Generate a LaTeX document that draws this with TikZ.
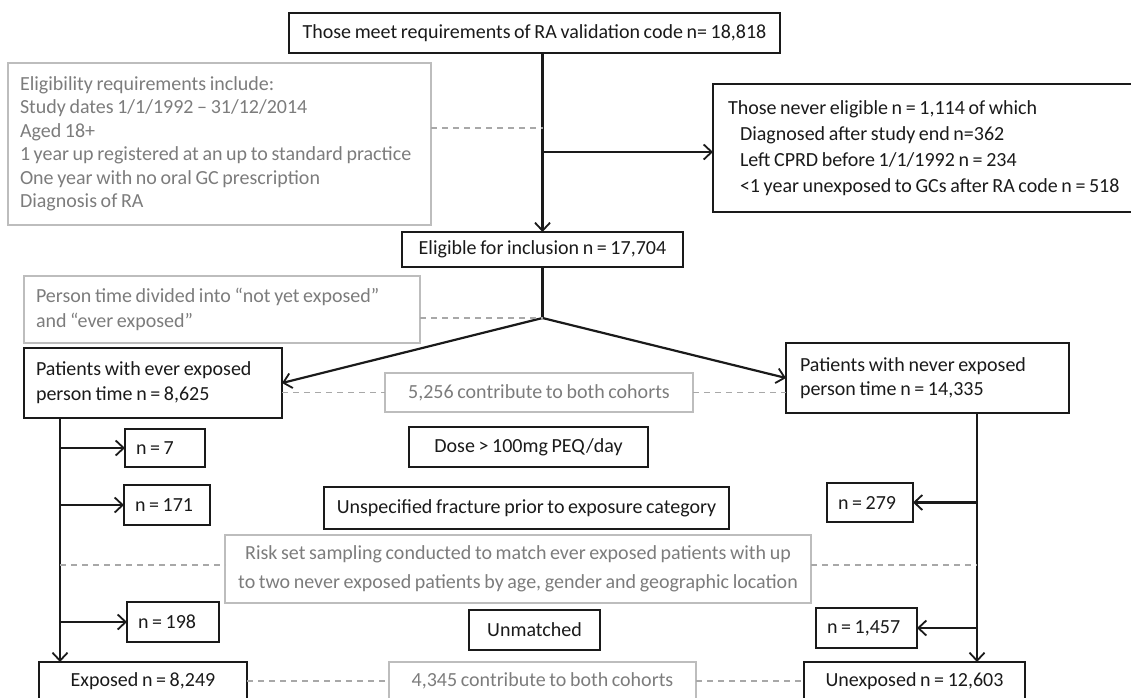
\documentclass[tikz,border=0pt]{standalone}
\usepackage{fontspec}
\setmainfont{Carlito}[WordSpace=0.8]
\usetikzlibrary{arrows.meta}
\definecolor{ink}{HTML}{1A1A1A}
\definecolor{gtext}{HTML}{7C7C7C}
\definecolor{gline}{HTML}{BDBDBD}
\definecolor{gdash}{HTML}{A8A8A8}
\begin{document}
\begin{tikzpicture}[x=1pt,y=-1pt,
 base/.style={inner sep=0pt, outer sep=0pt, font=\fontsize{20}{25}\selectfont},
 blk/.style={base, draw=ink, line width=1.4pt, text=ink},
 gry/.style={base, draw=gline, line width=1.2pt, text=gtext},
 nb/.style={blk, align=flush left, inner xsep=11pt},
 sz/.style 2 args={minimum width=#1pt, minimum height=#2pt},
 ln/.style={draw=ink, line width=2.2pt},
 arr/.style={ln, -{Straight Barb[length=8pt,width=15pt,line width=1.8pt]}},
 dsh/.style={draw=gdash, line width=1.1pt, dash pattern=on 6pt off 5pt},
]
\useasboundingbox (0,0) rectangle (1131,697);
\clip (0,0) rectangle (1131,697);

\node[blk, sz={491}{40}] (top) at (534.5,33) {Those meet requirements of RA validation code n= 18,818};

\node[gry, minimum height=162pt, text width=399pt, inner xsep=12pt, align=flush left, font=\fontsize{20}{23.5}\selectfont] (req) at (219.5,144)
 {Eligibility requirements include:\\ Study dates 1/1/1992 – 31/12/2014\\ Aged 18+\\ 1 year up registered at an up to standard practice\\ One year with no oral GC prescription\\ Diagnosis of RA};

\node[blk, minimum height=128pt, text width=405pt, inner xsep=15pt, align=flush left, font=\fontsize{20}{26}\selectfont] (nev) at (930.5,148)
 {Those never eligible n = 1,114 of which\\ \hspace*{12pt}Diagnosed after study end n=362\\ \hspace*{12pt}Left CPRD before 1/1/1992 n = 234\\ \hspace*{12pt}<1 year unexposed to GCs after RA code n = 518};

\node[blk, sz={281}{35}] (elg) at (542.5,249.5) {Eligible for inclusion n = 17,704};

\node[gry, minimum height=67pt, text width=372pt, inner xsep=12pt, align=flush left] (pt) at (222,309.5)
 {Person time divided into “not yet exposed”\\ and “ever exposed”};

\node[blk, minimum height=70pt, text width=234pt, inner xsep=12pt, align=flush left] (ever) at (153,383)
 {Patients with ever exposed\\ person time n = 8,625};

\node[gry, sz={308}{39}] (c1) at (539,392.5) {5,256 contribute to both cohorts};

\node[blk, minimum height=70pt, text width=255pt, inner xsep=14pt, align=flush left, font=\fontsize{20}{24}\selectfont] (never) at (927.5,378)
 {Patients with never exposed\\ person time n = 14,335};

\node[nb, text width=58pt, minimum height=38pt] (n7) at (165,448) {n = 7};
\node[nb, text width=64pt, minimum height=40pt] (n171) at (167,505) {n = 171};
\node[nb, text width=70pt, minimum height=40pt] (n198) at (173,622) {n = 198};
\node[nb, text width=64pt, minimum height=39pt] (n279) at (870,502.5) {n = 279};
\node[nb, text width=79pt, minimum height=40pt] (n1457) at (866.5,628) {n = 1,457};

\node[blk, sz={239}{40}] (dose) at (528.5,447) {Dose > 100mg PEQ/day};
\node[blk, sz={405}{42}] (unsp) at (526.5,508) {Unspecified fracture prior to exposure category};
\node[gry, minimum height=68pt, text width=586pt, align=flush center, font=\fontsize{20}{29}\selectfont] (risk) at (518,569)
 {Risk set sampling conducted to match ever exposed patients with up\\ to two never exposed patients by age, gender and geographic location};
\node[blk, sz={131}{40}] (unm) at (534.5,630) {Unmatched};
\node[blk, sz={208}{38}] (expo) at (143,681) {Exposed n = 8,249};
\node[gry, sz={307}{38}] (c2) at (542.5,681) {4,345 contribute to both cohorts};
\node[blk, sz={221}{38}] (unexp) at (914.5,681) {Unexposed n = 12,603};

\coordinate (j1) at (542.5,152);
\coordinate (d1) at (542.5,128);
\coordinate (br) at (542.5,318);
\coordinate (lx) at (60,0);
\coordinate (rx) at (977,0);
\coordinate (dr) at (0,565);

\draw[arr] (top.south -| elg.north) -- (elg.north);
\draw[arr] (j1) -- (j1 -| nev.west);
\draw[dsh] (req.east |- d1) -- (d1);
\draw[ln] (elg.south) -- (br);
\draw[arr] (br) -- (ever.east);
\draw[arr] (br) -- (never.west);
\draw[dsh] (pt.east |- br) -- (br);
\draw[dsh] (ever.east |- c1) -- (c1.west);
\draw[dsh] (c1.east) -- (never.west |- c1);

\draw[arr] (lx |- ever.south) -- (lx |- expo.north);
\draw[arr] (lx |- n7) -- (n7.west);
\draw[arr] (lx |- n171) -- (n171.west);
\draw[arr] (lx |- n198) -- (n198.west);

\draw[arr] (rx |- never.south) -- (rx |- unexp.north);
\draw[arr] (rx |- n279) -- (n279.east);
\draw[arr] (rx |- n1457) -- (n1457.east);

\draw[dsh] (lx |- dr) -- (risk.west |- dr);
\draw[dsh] (risk.east |- dr) -- (rx |- dr);
\draw[dsh] (expo.east) -- (c2.west);
\draw[dsh] (c2.east) -- (unexp.west);
\end{tikzpicture}
\end{document}
